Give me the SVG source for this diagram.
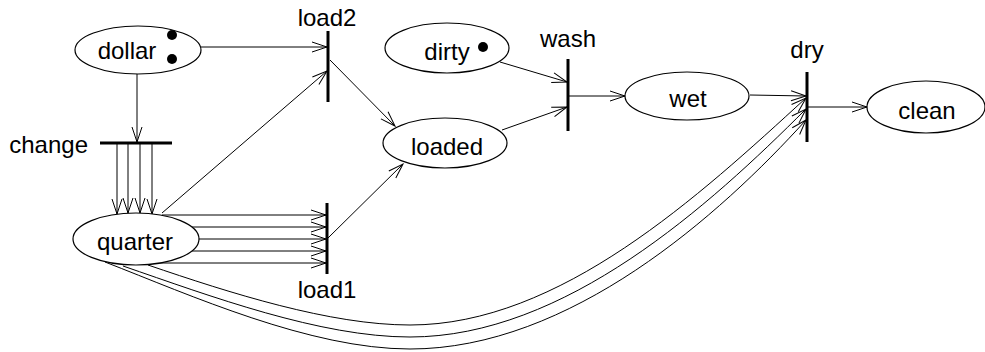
<svg xmlns="http://www.w3.org/2000/svg" width="985" height="352" viewBox="0 0 985 352">
<defs>
<marker id="arr" markerUnits="userSpaceOnUse" markerWidth="16" markerHeight="12" refX="15" refY="5" orient="auto" overflow="visible">
<path d="M0,0 L15,5 L0,10" fill="none" stroke="#000" stroke-width="1"/>
</marker>
</defs>
<style>
.place ellipse{fill:#fff;stroke:#000;stroke-width:1.2}
.bar{stroke:#000;stroke-width:3;fill:none}
text{font-family:"Liberation Sans",Arial,Helvetica,sans-serif;font-size:24px;fill:#000}
.c{text-anchor:middle}
.edges path,.edges line{fill:none;stroke:#000;stroke-width:1;marker-end:url(#arr)}
.tok{fill:#000}
</style>
<rect width="985" height="352" fill="#fff"/>
<g class="edges">
<line x1="201" y1="47" x2="327" y2="47"/>
<line x1="137" y1="73" x2="137" y2="142"/>
<line x1="117" y1="144" x2="117" y2="214"/>
<line x1="128" y1="144" x2="128" y2="213"/>
<line x1="140" y1="144" x2="140" y2="213"/>
<line x1="152" y1="144" x2="152" y2="214"/>
<line x1="162" y1="213" x2="327" y2="71"/>
<line x1="162" y1="215" x2="326" y2="215"/>
<line x1="192" y1="227" x2="326" y2="227"/>
<line x1="199" y1="239" x2="326" y2="239"/>
<line x1="192" y1="251" x2="326" y2="251"/>
<line x1="160" y1="263" x2="326" y2="263"/>
<line x1="330" y1="60" x2="395" y2="126"/>
<line x1="328" y1="238" x2="403" y2="164"/>
<line x1="500" y1="62" x2="567" y2="82"/>
<line x1="502" y1="130" x2="567" y2="107"/>
<line x1="569" y1="96" x2="625" y2="96"/>
<line x1="750" y1="95" x2="806" y2="96"/>
<line x1="808" y1="107" x2="867" y2="107"/>
<path d="M148,265 C230,293 330,325 410,325 C560,325 700,195 806,98"/>
<path d="M123,266 C210,296 320,337 410,337 C565,337 710,205 806,109"/>
<path d="M105,262 C190,295 310,349 410,349 C570,349 720,215 806,120"/>
</g>
<g id="dollar" class="place"><ellipse cx="138" cy="50" rx="63" ry="24"/><text x="127" y="59" class="c">dollar</text><circle class="tok" cx="172" cy="35" r="5"/><circle class="tok" cx="172" cy="59" r="5"/></g>
<g id="dirty" class="place"><ellipse cx="447" cy="48" rx="62" ry="25"/><text x="447" y="60" class="c">dirty</text><circle class="tok" cx="483" cy="47" r="5"/></g>
<g id="loaded" class="place"><ellipse cx="445" cy="143" rx="62" ry="25"/><text x="447" y="155" class="c">loaded</text></g>
<g id="quarter" class="place"><ellipse cx="136" cy="239" rx="63" ry="26"/><text x="135" y="250" class="c">quarter</text></g>
<g id="wet" class="place"><ellipse cx="687" cy="96" rx="62" ry="24"/><text x="688" y="107" class="c">wet</text></g>
<g id="clean" class="place"><ellipse cx="926" cy="107" rx="59" ry="26"/><text x="927" y="119" class="c">clean</text></g>
<g id="load2"><line class="bar" x1="328" y1="31" x2="328" y2="102"/><text x="327" y="26" class="c">load2</text></g>
<g id="change"><line class="bar" x1="100" y1="143" x2="172" y2="143"/><text x="88" y="153" text-anchor="end">change</text></g>
<g id="load1"><line class="bar" x1="327" y1="203" x2="327" y2="274"/><text x="327" y="298" class="c">load1</text></g>
<g id="wash"><line class="bar" x1="568" y1="59" x2="568" y2="131"/><text x="568" y="47" class="c">wash</text></g>
<g id="dry"><line class="bar" x1="807" y1="72" x2="807" y2="142"/><text x="807" y="58" class="c">dry</text></g>
</svg>
